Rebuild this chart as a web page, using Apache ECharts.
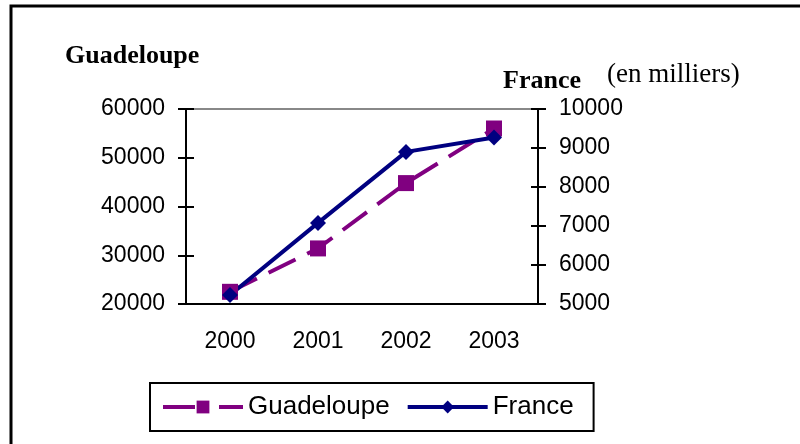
<!DOCTYPE html>
<html>
<head>
<meta charset="utf-8">
<script src="https://cdn.jsdelivr.net/npm/echarts@6/dist/echarts.min.js"></script>
<style>
  html, body { margin: 0; padding: 0; background: #fff; }
  #chart { width: 800px; height: 444px; }
</style>
</head>
<body>
<div id="chart"></div>
<script>
// population, en milliers
var years = ['2000', '2001', '2002', '2003'];
var guadeloupe = [22500, 31400, 44800, 56000];
var france = [5230, 7080, 8900, 9270];

var chart = echarts.init(document.getElementById('chart'));

var tickFont = { fontFamily: 'Liberation Sans', fontSize: 23, color: '#000' };
var blackLine = { lineStyle: { color: '#000', width: 2 } };
var plain = function (v) { return String(v); };

var option = {
  backgroundColor: '#fff',
  animation: false,
  title: [
    { text: 'Guadeloupe', left: 65, top: 43, padding: 0,
      textStyle: { fontFamily: 'Liberation Serif', fontWeight: 'bold', fontSize: 26, color: '#000' } },
    { text: 'France', left: 503, top: 68, padding: 0,
      textStyle: { fontFamily: 'Liberation Serif', fontWeight: 'bold', fontSize: 26, color: '#000' } },
    { text: '(en milliers)', left: 607, top: 61, padding: 0,
      textStyle: { fontFamily: 'Liberation Serif', fontWeight: 'normal', fontSize: 27, color: '#000' } }
  ],
  graphic: [{
    type: 'rect',
    shape: { x: 11, y: 6, width: 820, height: 470 },
    style: { fill: 'none', stroke: '#000', lineWidth: 3 }
  }],
  legend: {
    left: 150,
    top: 383,
    data: [
      { name: 'Guadeloupe', lineStyle: { width: 4, type: [32, 24] } },
      { name: 'France', lineStyle: { width: 4 } }
    ],
    itemWidth: 80,
    itemHeight: 16,
    itemGap: 16,
    padding: [11, 20, 11, 11],
    borderColor: '#000',
    borderWidth: 2,
    textStyle: { fontFamily: 'Liberation Sans', fontSize: 26, color: '#000' }
  },
  grid: {
    left: 186, right: 262, top: 109, bottom: 140,
    show: true, borderColor: '#888', borderWidth: 2, backgroundColor: '#fff'
  },
  xAxis: {
    type: 'category',
    data: years,
    axisLine: blackLine,
    axisTick: { length: 8, lineStyle: { color: '#000', width: 2 } },
    axisLabel: Object.assign({ margin: 26 }, tickFont)
  },
  yAxis: [
    { type: 'value', position: 'left', min: 20000, max: 60000, interval: 10000,
      splitLine: { show: false }, axisLine: Object.assign({ show: true }, blackLine),
      axisTick: { show: true, length: 8, lineStyle: { color: '#000', width: 2 } },
      axisLabel: Object.assign({ margin: 21, formatter: plain }, tickFont) },
    { type: 'value', position: 'right', min: 5000, max: 10000, interval: 1000,
      splitLine: { show: false }, axisLine: Object.assign({ show: true }, blackLine),
      axisTick: { show: true, length: 8, lineStyle: { color: '#000', width: 2 } },
      axisLabel: Object.assign({ margin: 21, formatter: plain }, tickFont) },
    // inside halves of the crossing ticks
    { type: 'value', position: 'left', min: 20000, max: 60000, interval: 10000,
      splitLine: { show: false }, axisLine: { show: false }, axisLabel: { show: false },
      axisTick: { show: true, inside: true, length: 8, lineStyle: { color: '#000', width: 2 } } },
    { type: 'value', position: 'right', min: 5000, max: 10000, interval: 1000,
      splitLine: { show: false }, axisLine: { show: false }, axisLabel: { show: false },
      axisTick: { show: true, inside: true, length: 7, lineStyle: { color: '#000', width: 2 } } }
  ],
  series: [
    {
      name: 'Guadeloupe',
      type: 'line',
      yAxisIndex: 0,
      data: guadeloupe,
      symbol: 'rect',
      symbolSize: 16,
      showAllSymbol: true,
      color: '#800080',
      lineStyle: { color: '#800080', width: 4, type: [30, 13] },
      itemStyle: { color: '#800080' }
    },
    {
      name: 'France',
      type: 'line',
      yAxisIndex: 1,
      data: france,
      symbol: 'diamond',
      symbolSize: 16,
      color: '#000080',
      lineStyle: { color: '#000080', width: 4 },
      itemStyle: { color: '#000080' }
    }
  ]
};

chart.setOption(option);
window.onresize = chart.resize;
</script>
</body>
</html>
